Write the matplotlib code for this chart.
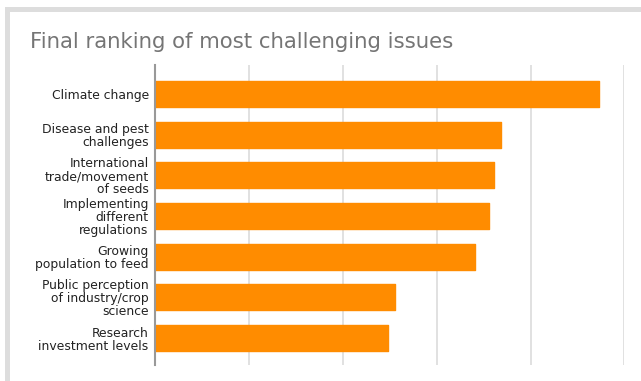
import matplotlib
matplotlib.use("Agg")
import matplotlib.pyplot as plt
from matplotlib.patches import Rectangle

categories = [
    "Climate change",
    "Disease and pest\nchallenges",
    "International\ntrade/movement\nof seeds",
    "Implementing\ndifferent\nregulations",
    "Growing\npopulation to feed",
    "Public perception\nof industry/crop\nscience",
    "Research\ninvestment levels",
]
scores = [4.73, 3.68, 3.61, 3.56, 3.41, 2.56, 2.48]

bar_color = "#ff8c00"

fig = plt.figure(figsize=(6.41, 3.81), dpi=100)
fig.patch.set_facecolor("white")

# card frame: grey strip along the top and left edge
frame_color = "#dddddd"
W, H = 641, 381
fig.add_artist(Rectangle((5 / W, 1 - 12 / H), 1 - 5 / W, 5 / H,
                         transform=fig.transFigure, color=frame_color, lw=0))
fig.add_artist(Rectangle((5 / W, 0), 5 / W, 1 - 12 / H,
                         transform=fig.transFigure, color=frame_color, lw=0))

fig.text(30 / W, 1 - 42 / H, "Final ranking of most challenging issues",
         fontsize=15.3, color="#757575", va="center", ha="left")

ax = fig.add_axes([155 / W, 1 - 365 / H, (624.5 - 155) / W, (365 - 65) / H])
y = list(range(len(categories)))
ax.barh(y, scores, height=0.64, color=bar_color, edgecolor=bar_color,
        linewidth=1.0, joinstyle="round", zorder=3)

ax.set_xlim(0, 5)
ax.set_ylim(6.66, -0.71)
ax.set_xticks([1, 2, 3, 4, 5])
ax.set_xticklabels([])
ax.grid(axis="x", color="#dedede", linewidth=1.3, zorder=0)
ax.tick_params(axis="x", length=0)
ax.set_yticks(y)
ax.set_yticklabels(categories, fontsize=8.9, color="#222222", linespacing=1.0)
for lbl in ax.get_yticklabels():
    lbl.set_multialignment("right")
ax.tick_params(axis="y", length=0, pad=4.5)

for side in ("top", "right", "bottom"):
    ax.spines[side].set_visible(False)
ax.spines["left"].set_color("#999999")
ax.spines["left"].set_linewidth(1.5)
ax.spines["left"].set_zorder(4)

fig.savefig("out.png", dpi=100, facecolor="white")
